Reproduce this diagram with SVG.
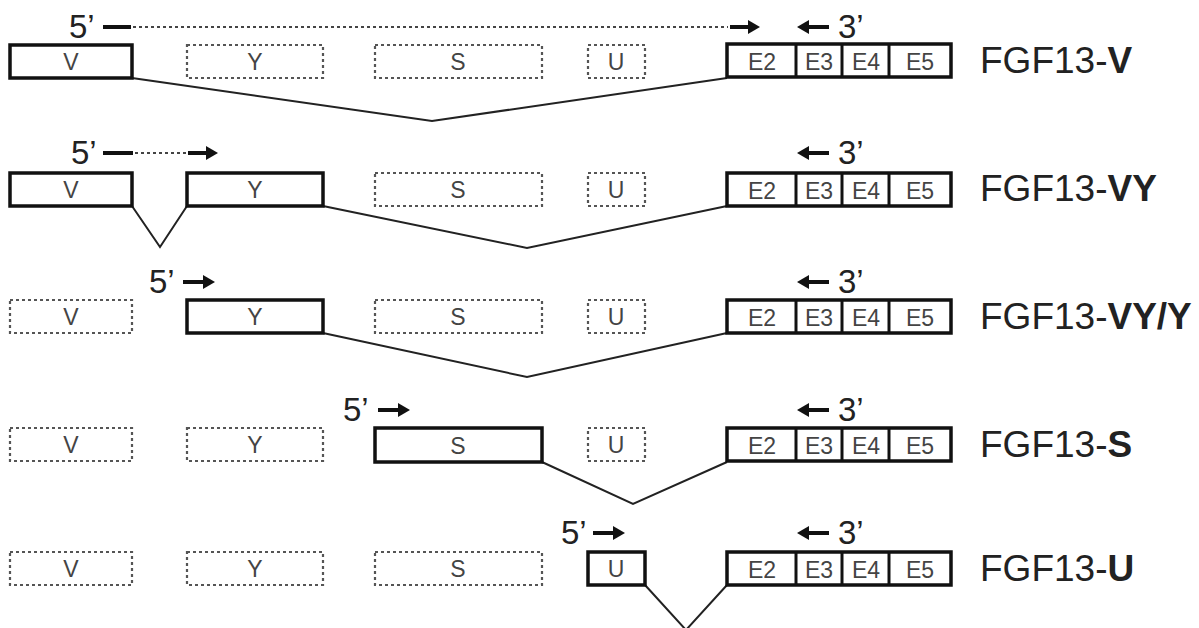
<svg xmlns="http://www.w3.org/2000/svg" width="1199" height="628" viewBox="0 0 1199 628">
<style>
.bg{fill:#fff}
.solid{fill:#fff;stroke:#111;stroke-width:3.5}
.dash{fill:#fff;stroke:#555;stroke-width:2.2;stroke-dasharray:3 3}
.div{stroke:#111;stroke-width:3}
.bt{font-family:"Liberation Sans",Arial,sans-serif;font-size:23px;fill:#444;text-anchor:middle}
.end{font-family:"Liberation Sans",Arial,sans-serif;font-size:33px;fill:#222}
.lab{font-family:"Liberation Sans",Arial,sans-serif;font-size:37px;fill:#222}
.lab tspan{font-weight:bold}
.conn{fill:none;stroke:#222;stroke-width:2}
.arr{stroke:#111;stroke-width:4;fill:none}
.dot{stroke:#444;stroke-width:2;stroke-dasharray:3 3;fill:none}
</style>
<defs>
<marker id="ah" markerUnits="userSpaceOnUse" markerWidth="14" markerHeight="16" refX="2" refY="8" orient="auto">
<path d="M0,1 L12,8 L0,15 z" fill="#111"/>
</marker>
<g id="exons-def">
<rect class="solid" x="0" y="0" width="224" height="33"/>
<line class="div" x1="69" y1="0" x2="69" y2="33"/>
<line class="div" x1="115" y1="0" x2="115" y2="33"/>
<line class="div" x1="162" y1="0" x2="162" y2="33"/>
<text class="bt" x="35" y="26">E2</text>
<text class="bt" x="92" y="26">E3</text>
<text class="bt" x="139" y="26">E4</text>
<text class="bt" x="193" y="26">E5</text>
</g>
</defs>
<rect class="bg" width="1199" height="628"/>

<g id="connectors">
<path class="conn" d="M132,78 L432,121 L727,78"/>
<path class="conn" d="M132,206 L160,247 L187,206"/>
<path class="conn" d="M323,206 L527,248 L727,206"/>
<path class="conn" d="M323,333 L527,377 L727,333"/>
<path class="conn" d="M542,462 L633,504 L727,462"/>
<path class="conn" d="M645,585 L686,630 L727,585"/>
</g>

<!-- Row 1: FGF13-V -->
<g id="row1">
<g id="r1-V"><rect class="solid" x="10" y="45" width="122" height="33"/><text class="bt" x="71" y="70">V</text></g>
<g id="r1-Y"><rect class="dash" x="187" y="45" width="136" height="33"/><text class="bt" x="255" y="70">Y</text></g>
<g id="r1-S"><rect class="dash" x="375" y="45" width="167" height="33"/><text class="bt" x="458" y="70">S</text></g>
<g id="r1-U"><rect class="dash" x="588" y="45" width="57" height="33"/><text class="bt" x="616" y="70">U</text></g>
<g id="r1-E"><use href="#exons-def" x="727" y="44"/></g>
<g id="r1-primers">
<text class="end" x="69" y="38">5’</text>
<line class="arr" x1="103" y1="27" x2="131" y2="27"/>
<line class="dot" x1="133" y1="27" x2="728" y2="27"/>
<line class="arr" x1="730" y1="27" x2="750" y2="27" marker-end="url(#ah)"/>
<line class="arr" x1="829" y1="27" x2="807" y2="27" marker-end="url(#ah)"/>
<text class="end" x="838" y="38">3’</text>
</g>
<g id="r1-label"><text class="lab" x="980" y="73">FGF13-<tspan>V</tspan></text></g>
</g>

<!-- Row 2: FGF13-VY -->
<g id="row2">
<g id="r2-V"><rect class="solid" x="10" y="173" width="122" height="33"/><text class="bt" x="71" y="198">V</text></g>
<g id="r2-Y"><rect class="solid" x="187" y="173" width="136" height="33"/><text class="bt" x="255" y="198">Y</text></g>
<g id="r2-S"><rect class="dash" x="375" y="173" width="167" height="33"/><text class="bt" x="458" y="198">S</text></g>
<g id="r2-U"><rect class="dash" x="588" y="173" width="57" height="33"/><text class="bt" x="616" y="198">U</text></g>
<g id="r2-E"><use href="#exons-def" x="727" y="173"/></g>
<g id="r2-primers">
<text class="end" x="71" y="164">5’</text>
<line class="arr" x1="103" y1="153" x2="133" y2="153"/>
<line class="dot" x1="135" y1="153" x2="186" y2="153"/>
<line class="arr" x1="188" y1="153" x2="208" y2="153" marker-end="url(#ah)"/>
<line class="arr" x1="829" y1="153" x2="807" y2="153" marker-end="url(#ah)"/>
<text class="end" x="838" y="164">3’</text>
</g>
<g id="r2-label"><text class="lab" x="980" y="201">FGF13-<tspan>VY</tspan></text></g>
</g>

<!-- Row 3: FGF13-VY/Y -->
<g id="row3">
<g id="r3-V"><rect class="dash" x="10" y="300" width="122" height="33"/><text class="bt" x="71" y="325">V</text></g>
<g id="r3-Y"><rect class="solid" x="187" y="300" width="136" height="33"/><text class="bt" x="255" y="325">Y</text></g>
<g id="r3-S"><rect class="dash" x="375" y="300" width="167" height="33"/><text class="bt" x="458" y="325">S</text></g>
<g id="r3-U"><rect class="dash" x="588" y="300" width="57" height="33"/><text class="bt" x="616" y="325">U</text></g>
<g id="r3-E"><use href="#exons-def" x="727" y="300"/></g>
<g id="r3-primers">
<text class="end" x="149" y="293">5’</text>
<line class="arr" x1="183" y1="282" x2="205" y2="282" marker-end="url(#ah)"/>
<line class="arr" x1="829" y1="282" x2="807" y2="282" marker-end="url(#ah)"/>
<text class="end" x="838" y="293">3’</text>
</g>
<g id="r3-label"><text class="lab" x="980" y="329">FGF13-<tspan>VY/Y</tspan></text></g>
</g>

<!-- Row 4: FGF13-S -->
<g id="row4">
<g id="r4-V"><rect class="dash" x="10" y="428" width="122" height="33"/><text class="bt" x="71" y="453">V</text></g>
<g id="r4-Y"><rect class="dash" x="187" y="428" width="136" height="33"/><text class="bt" x="255" y="453">Y</text></g>
<g id="r4-S"><rect class="solid" x="375" y="428" width="167" height="34"/><text class="bt" x="458" y="454">S</text></g>
<g id="r4-U"><rect class="dash" x="588" y="428" width="57" height="33"/><text class="bt" x="616" y="453">U</text></g>
<g id="r4-E"><use href="#exons-def" x="727" y="428"/></g>
<g id="r4-primers">
<text class="end" x="343" y="421">5’</text>
<line class="arr" x1="378" y1="410" x2="400" y2="410" marker-end="url(#ah)"/>
<line class="arr" x1="829" y1="410" x2="807" y2="410" marker-end="url(#ah)"/>
<text class="end" x="838" y="421">3’</text>
</g>
<g id="r4-label"><text class="lab" x="980" y="457">FGF13-<tspan>S</tspan></text></g>
</g>

<!-- Row 5: FGF13-U -->
<g id="row5">
<g id="r5-V"><rect class="dash" x="10" y="552" width="122" height="33"/><text class="bt" x="71" y="577">V</text></g>
<g id="r5-Y"><rect class="dash" x="187" y="552" width="136" height="33"/><text class="bt" x="255" y="577">Y</text></g>
<g id="r5-S"><rect class="dash" x="375" y="552" width="167" height="33"/><text class="bt" x="458" y="577">S</text></g>
<g id="r5-U"><rect class="solid" x="588" y="552" width="57" height="33"/><text class="bt" x="616" y="577">U</text></g>
<g id="r5-E"><use href="#exons-def" x="727" y="552"/></g>
<g id="r5-primers">
<text class="end" x="561" y="544">5’</text>
<line class="arr" x1="593" y1="533" x2="615" y2="533" marker-end="url(#ah)"/>
<line class="arr" x1="829" y1="533" x2="807" y2="533" marker-end="url(#ah)"/>
<text class="end" x="838" y="544">3’</text>
</g>
<g id="r5-label"><text class="lab" x="980" y="581">FGF13-<tspan>U</tspan></text></g>
</g>
</svg>
